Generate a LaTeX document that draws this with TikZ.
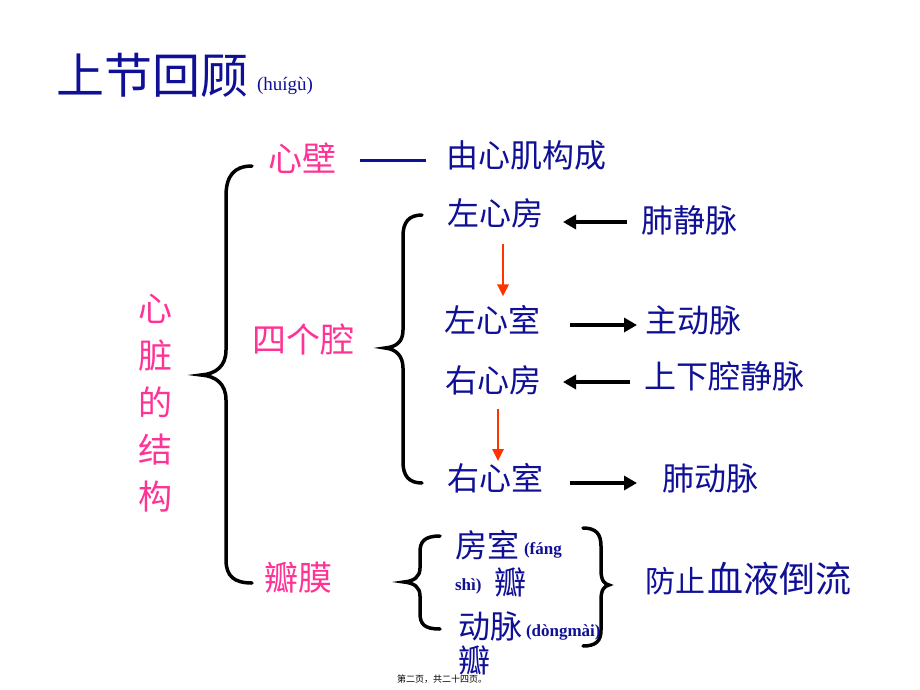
\documentclass[tikz,border=0pt]{standalone}
\usepackage{fontspec}
\setmainfont{Noto Sans CJK SC}
\newfontfamily\pyfont{Liberation Serif}
\usetikzlibrary{arrows.meta}
\definecolor{tblue}{RGB}{16,16,150}
\definecolor{tpink}{RGB}{255,51,150}
\definecolor{tred}{RGB}{255,51,0}
\begin{document}
\begin{tikzpicture}[x=1pt,y=-1pt,
 every node/.style={inner sep=0pt, outer sep=0pt},
 fs/.style={font=\fontsize{#1}{#1}\selectfont},
 bt/.style={text=tblue, fs=32},
 pk/.style={text=tpink, fs=34},
 py/.style={text=tblue, font=\pyfont\fontsize{#1}{#1}\selectfont},
 pyb/.style={text=tblue, font=\pyfont\bfseries\fontsize{#1}{#1}\selectfont},
 bracepath/.style={line width=3.5pt, line cap=round, black},
 blk/.style={line width=4pt, -{Triangle[length=13pt,width=14pt]}},
 redar/.style={tred, line width=2.8pt, -{Triangle[length=12pt,width=11pt]}},
]
\useasboundingbox[fill=white] (0,0) rectangle (920,690);

% title
\node[text=tblue, fs=48, anchor=west] (title) at (56,75) {上节回顾};
\node[py=19, anchor=west] (titpy) at (257,86) {(huígù)};

% vertical label
\node[text=tpink, font=\fontsize{34}{47}\selectfont, align=center] (xz) at (155,403) {心\\脏\\的\\结\\构};

% big brace
\draw[bracepath] (252,166) .. controls (234,166) and (226,176) .. (226,196)
  -- (226,350) .. controls (226,366) and (216,374) .. (201,375)
  .. controls (216,376) and (226,384) .. (226,400)
  -- (226,560) .. controls (226,576) and (234,583) .. (252,583);

% level 2
\node[pk] (xb) at (302,158) {心壁};
\node[bt] (yxj) at (526,155) {由心肌构成};
\draw[tblue, line width=3pt, shorten <=24pt, shorten >=20pt] ([yshift=-2pt]xb.east) -- ([yshift=-2pt]xb.east -| yxj.west);

\node[pk] (sgq) at (303,340) {四个腔};
\node[pk] (bm) at (298,578) {瓣膜};

% second brace
\draw[bracepath] (422,215) .. controls (409,215) and (403,222) .. (403,236)
  -- (403,330) .. controls (403,342) and (396,347) .. (385,348)
  .. controls (396,349) and (403,356) .. (403,368)
  -- (403,462) .. controls (403,476) and (409,483) .. (422,483);

% chambers
\node[bt] (zxf) at (495,213) {左心房};
\node[bt] (zxs) at (492,320) {左心室};
\node[bt] (yxf) at (493,380) {右心房};
\node[bt] (yxs) at (495,478) {右心室};

\node[bt] (fjm) at (689,220) {肺静脉};
\node[bt] (zdm) at (693,320) {主动脉};
\node[bt] (sxq) at (724,376) {上下腔静脉};
\node[bt] (fdm) at (710,478) {肺动脉};

\draw[blk, shorten <=14pt, shorten >=20pt] ([yshift=-2pt]fjm.west) -- ([yshift=-2pt]fjm.west -| zxf.east);
\draw[blk, shorten <=30pt, shorten >=8pt] ([yshift=-5pt]zxs.east) -- ([yshift=-5pt]zxs.east -| zdm.west);
\draw[blk, shorten <=14pt, shorten >=22pt] ([yshift=-6pt]sxq.west) -- ([yshift=-6pt]sxq.west -| yxf.east);
\draw[blk, shorten <=27pt, shorten >=25pt] ([yshift=-5pt]yxs.east) -- ([yshift=-5pt]yxs.east -| fdm.west);

\draw[redar, shorten <=16pt, shorten >=9pt] ([xshift=8pt]zxf.south) -- ([xshift=8pt]zxf.south |- zxs.north);
\draw[redar, shorten <=14pt, shorten >=2pt] ([xshift=5pt]yxf.south) -- ([xshift=5pt]yxf.south |- yxs.north);

% valves
\draw[bracepath] (440,536) .. controls (424,536) and (420,542) .. (420,552)
  -- (420,568) .. controls (420,577) and (414,581) .. (404,582)
  .. controls (414,583) and (420,587) .. (420,596)
  -- (420,613) .. controls (420,624) and (424,629) .. (440,629);
\draw[bracepath] (583,528) .. controls (596,528) and (601,534) .. (601,546)
  -- (601,570) .. controls (601,580) and (604,584) .. (609,585)
  .. controls (604,586) and (601,590) .. (601,600)
  -- (601,630) .. controls (601,641) and (596,646) .. (583,646);

\node[bt, anchor=west] (fs1) at (455,545) {房室};
\node[pyb=17, anchor=west] (fs2) at (524,550) {(fáng};
\node[pyb=17, anchor=west] (fs3) at (455,586) {shì)};
\node[bt, anchor=west] (fs4) at (494,582) {瓣};
\node[bt, anchor=west] (dm1) at (458,626) {动脉};
\node[pyb=17, anchor=west] (dm2) at (526,632) {(dòngmài)};
\node[bt, anchor=west] (dm3) at (458,660) {瓣};

\node[text=tblue, fs=30, anchor=west] (fz1) at (645,581) {防止};
\node[text=tblue, fs=36, anchor=west] (fz2) at (707,579) {血液倒流};

% footer
\node[fs=9] (foot) at (442,679) {第二页，共二十四页。};
\end{tikzpicture}
\end{document}
